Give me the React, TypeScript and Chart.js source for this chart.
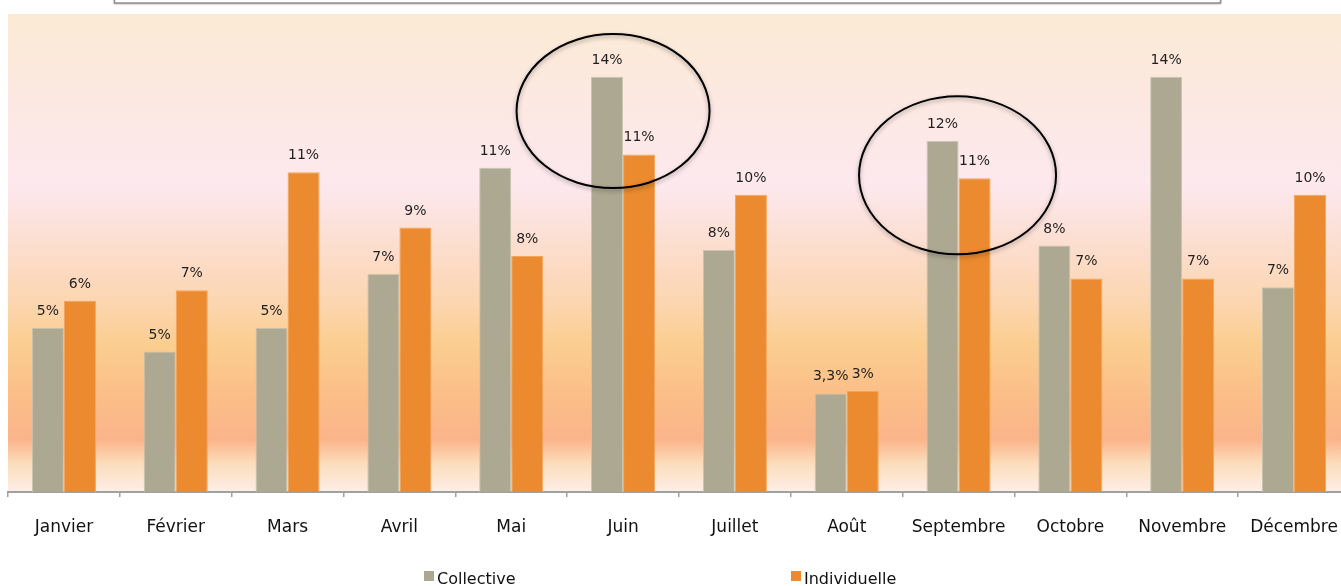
import React, { useEffect, useRef } from "react";
import { Chart, registerables } from "chart.js";

Chart.register(...registerables);

const months = ["Janvier", "Février", "Mars", "Avril", "Mai", "Juin", "Juillet", "Août", "Septembre", "Octobre", "Novembre", "Décembre"];
const collective = [5.5, 4.7, 5.5, 7.3, 10.85, 13.9, 8.1, 3.3, 11.75, 8.25, 13.9, 6.85];
const individuelle = [6.4, 6.75, 10.7, 8.85, 7.9, 11.3, 9.95, 3.38, 10.5, 7.15, 7.15, 9.95];
const collectiveLabels = ["5%", "5%", "5%", "7%", "11%", "14%", "8%", "3,3%", "12%", "8%", "14%", "7%"];
const individuelleLabels = ["6%", "7%", "11%", "9%", "8%", "11%", "10%", "3%", "11%", "7%", "7%", "10%"];
const seriesNames = ["Collective", "Individuelle"];
const highlightMonths = [5, 8];
const highlightValues = [12.75, 10.6];

const FONT = "'DejaVu Sans', sans-serif";

const backgroundPlugin = {
  id: "bgGradient",
  beforeDraw(chart: any) {
    const { ctx, chartArea } = chart;
    const { left, top, bottom } = chartArea;
    const right = chart.width;
    const h = bottom - top;
    const g = ctx.createLinearGradient(0, top, 0, bottom);
    const stops: [number, string][] = [
      [0, "#FBEBD5"],
      [0.1, "#FCE9DC"],
      [0.36, "#FDE8EE"],
      [0.5, "#FCDDCB"],
      [0.6, "#FCD6B1"],
      [0.69, "#FBCE90"],
      [0.8, "#FBBE88"],
      [0.89, "#FAB48A"],
      [0.94, "#FCDDBB"],
      [1, "#FDEEE8"],
    ];
    stops.forEach(([o, c]) => g.addColorStop(o, c));
    ctx.save();
    ctx.fillStyle = g;
    ctx.fillRect(left, top, right - left, h);
    // decorative title box (bottom edge only visible)
    ctx.shadowColor = "rgba(0,0,0,0.35)";
    ctx.shadowBlur = 2;
    ctx.shadowOffsetY = 1;
    ctx.fillStyle = "#ffffff";
    ctx.fillRect(114, -20, 1107, 23);
    ctx.shadowColor = "transparent";
    ctx.strokeStyle = "#8E8E8E";
    ctx.lineWidth = 1.5;
    ctx.strokeRect(114.5, -20, 1106, 23);
    ctx.restore();
  },
};

const labelsPlugin = {
  id: "barLabels",
  afterDatasetsDraw(chart: any) {
    const { ctx } = chart;
    const texts = [collectiveLabels, individuelleLabels];
    ctx.save();
    ctx.font = `14px ${FONT}`;
    ctx.fillStyle = "#1f1f1f";
    ctx.textAlign = "center";
    ctx.textBaseline = "alphabetic";
    chart.data.datasets.forEach((_: any, di: number) => {
      const meta = chart.getDatasetMeta(di);
      meta.data.forEach((bar: any, i: number) => {
        ctx.fillText(texts[di][i], bar.x, bar.y - 13);
      });
    });
    ctx.restore();
  },
};

const ellipsePlugin = {
  id: "ellipses",
  afterDraw(chart: any, _args: any, opts: any) {
    const { ctx } = chart;
    const xs = chart.scales.x;
    const ys = chart.scales.y;
    ctx.save();
    highlightMonths.forEach((m, k) => {
      const cx = xs.getPixelForValue(m) + opts.dx[k];
      const cy = ys.getPixelForValue(highlightValues[k]);
      ctx.beginPath();
      ctx.ellipse(cx, cy, opts.rx[k], opts.ry[k], 0, 0, Math.PI * 2);
      ctx.shadowColor = "rgba(0,0,0,0.35)";
      ctx.shadowBlur = 4;
      ctx.shadowOffsetY = 2;
      ctx.strokeStyle = "#000000";
      ctx.lineWidth = 2;
      ctx.stroke();
    });
    ctx.restore();
  },
};

const legendPlugin = {
  id: "customLegend",
  afterDraw(chart: any, _args: any, opts: any) {
    const { ctx } = chart;
    ctx.save();
    ctx.font = `16px ${FONT}`;
    ctx.textBaseline = "middle";
    ctx.textAlign = "left";
    chart.data.datasets.forEach((ds: any, i: number) => {
      const x = opts.x[i];
      ctx.fillStyle = ds.backgroundColor;
      ctx.fillRect(x, opts.y - 9, 10, 10);
      ctx.fillStyle = "#111111";
      ctx.fillText(ds.label, x + 13, opts.y);
    });
    ctx.restore();
  },
};

export default function App() {
  const ref = useRef<HTMLCanvasElement | null>(null);
  useEffect(() => {
    if (!ref.current) return;
    const chart = new Chart(ref.current, {
      type: "bar",
      data: {
        labels: months,
        datasets: [
          {
            label: seriesNames[0],
            data: collective,
            backgroundColor: "#ADA892",
            borderColor: "#C9C4B0",
            borderWidth: 1,
            categoryPercentage: 0.573,
            barPercentage: 1,
          },
          {
            label: seriesNames[1],
            data: individuelle,
            backgroundColor: "#EB8A2E",
            borderColor: "#F2A45C",
            borderWidth: 1,
            categoryPercentage: 0.573,
            barPercentage: 1,
          },
        ],
      },
      options: {
        responsive: false,
        animation: false,
        layout: { padding: { left: 8, right: 2, top: 14, bottom: 0 } },
        plugins: {
          legend: { display: false },
          tooltip: { enabled: false },
          title: { display: false },
          customLegend: { x: [424, 791], y: 580 },
          ellipses: { dx: [-10, -1], rx: [96.5, 98.5], ry: [77, 79] },
        } as any,
        scales: {
          x: {
            offset: true,
            grid: {
              display: true,
              drawOnChartArea: false,
              drawTicks: true,
              tickLength: 5,
              offset: true,
              color: "#A0A0A0",
              lineWidth: 1.5,
            },
            border: { display: true, color: "#A0A0A0", width: 2 },
            ticks: {
              font: { family: FONT, size: 17 },
              color: "#111111",
              padding: 20,
              maxRotation: 0,
              autoSkip: false,
            },
            afterFit: (scale: any) => {
              scale.height = 94;
            },
          },
          y: {
            display: false,
            min: 0,
            max: 16,
          },
        },
      },
      plugins: [backgroundPlugin, labelsPlugin, ellipsePlugin, legendPlugin],
    });
    return () => chart.destroy();
  }, []);
  return (
    <div style={{ position: "fixed", left: 0, top: 0, width: 1341, height: 586, overflow: "hidden", background: "#ffffff" }}>
      <canvas ref={ref} width={1358} height={586} style={{ display: "block" }} />
    </div>
  );
}
